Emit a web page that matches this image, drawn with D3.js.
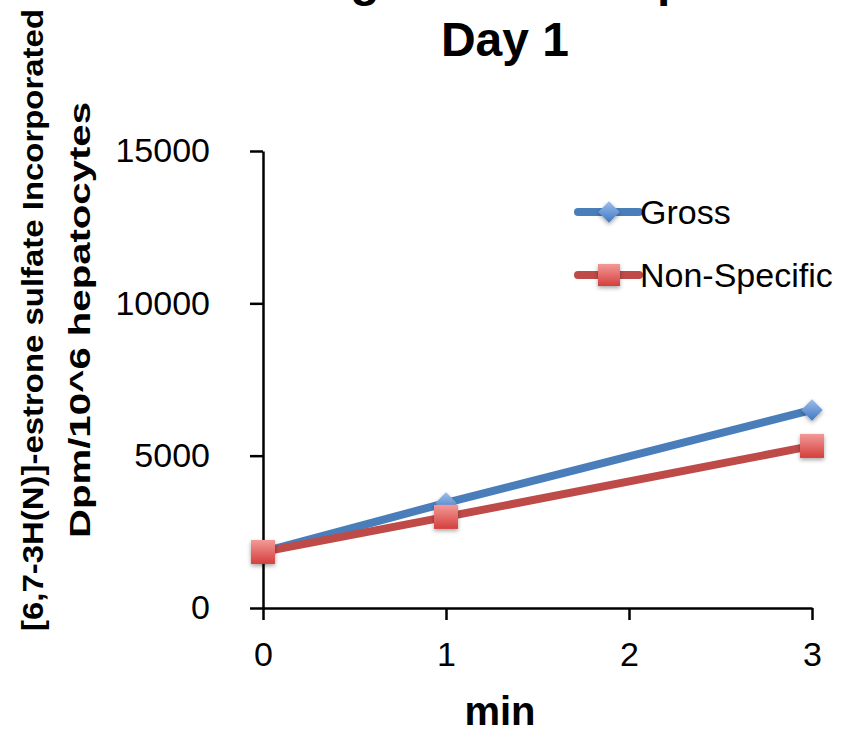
<!DOCTYPE html>
<meta charset="utf-8">
<script src="https://d3js.org/d3.v7.min.js"></script>
<style>
  body { margin: 0; background: #fff; }
  text { font-family: "Liberation Sans", Arial, sans-serif; }
</style>
<div id="chart"></div>
<script>
// data
const minutes = [0, 1, 3];
const gross = [1840, 3450, 6500];
const nonSpecific = [1840, 2990, 5320];
const seriesNames = ["Gross", "Non-Specific"];
const xTicks = [0, 1, 2, 3];
const yTicks = [0, 5000, 10000, 15000];
const titleLines = ["Estrogen Sulfate Uptake", "Day 1"];
const yLabelLines = ["[6,7-3H(N)]-estrone sulfate Incorporated", "Dpm/10^6 hepatocytes"];

const W = 856, H = 731;
const blue = "#4a7ebb", red = "#be4b48";

const svg = d3.select("#chart").append("svg")
  .attr("width", W).attr("height", H);

// gradients + shadow for markers
const defs = svg.append("defs");
const gBlue = defs.append("linearGradient").attr("id", "gBlue").attr("x1", 0).attr("y1", 0).attr("x2", 0).attr("y2", 1);
gBlue.append("stop").attr("offset", "0%").attr("stop-color", "#9dbdea");
gBlue.append("stop").attr("offset", "100%").attr("stop-color", "#3f78c4");
const gRed = defs.append("linearGradient").attr("id", "gRed").attr("x1", 0).attr("y1", 0).attr("x2", 0).attr("y2", 1);
gRed.append("stop").attr("offset", "0%").attr("stop-color", "#f29a98");
gRed.append("stop").attr("offset", "100%").attr("stop-color", "#d43f3c");
const shadow = defs.append("filter").attr("id", "shadow")
  .attr("x", "-50%").attr("y", "-50%").attr("width", "200%").attr("height", "200%");
shadow.append("feDropShadow").attr("dx", 0).attr("dy", 2).attr("stdDeviation", 2)
  .attr("flood-color", "#000").attr("flood-opacity", 0.35);

// scales
const x = d3.scaleLinear().domain([0, 3]).range([263, 812]);
const y = d3.scaleLinear().domain([0, 15000]).range([608, 151]);

// title (first line sits mostly above the top edge, as in the source)
svg.append("g").selectAll("text")
  .data(titleLines)
  .join("text")
    .attr("x", 505)
    .attr("y", (d, i) => i === 0 ? -4 : 56)
    .attr("text-anchor", "middle")
    .style("font-size", "48px")
    .style("font-weight", "bold")
    .text(d => d);

// y axis
const yAxis = svg.append("g")
  .attr("transform", `translate(${x(0)},0)`)
  .call(d3.axisLeft(y).tickValues(yTicks).tickFormat(d3.format("d"))
    .tickSize(13).tickSizeOuter(0).tickPadding(40));
// x axis
const xAxis = svg.append("g")
  .attr("transform", `translate(0,${y(0)})`)
  .call(d3.axisBottom(x).tickValues(xTicks).tickFormat(d3.format("d"))
    .tickSize(12).tickSizeOuter(0).tickPadding(22));

[yAxis, xAxis].forEach(a => {
  a.select(".domain").attr("stroke", "#000").attr("stroke-width", 2.5);
  a.selectAll(".tick line").attr("stroke", "#000").attr("stroke-width", 2.5);
  a.selectAll(".tick text").attr("fill", "#000").style("font-size", "34px")
    .style("font-family", "'Liberation Sans', Arial, sans-serif");
});

// axis titles
svg.append("text")
  .attr("x", 500).attr("y", 725)
  .attr("text-anchor", "middle")
  .style("font-size", "40px").style("font-weight", "bold")
  .text("min");

const yLabelLen = [622, 436];
svg.append("g").selectAll("text")
  .data(yLabelLines)
  .join("text")
    .attr("transform", "rotate(-90)")
    .attr("x", -320)
    .attr("y", (d, i) => i === 0 ? 43 : 90)
    .attr("text-anchor", "middle")
    .attr("textLength", (d, i) => yLabelLen[i])
    .attr("lengthAdjust", "spacingAndGlyphs")
    .style("font-size", "29px").style("font-weight", "bold")
    .text(d => d);

// lines
const line = d3.line().x((d, i) => x(minutes[i])).y(d => y(d));
const series = [
  {name: seriesNames[0], values: gross, color: blue},
  {name: seriesNames[1], values: nonSpecific, color: red}
];

const diamond = d3.symbol().type(d3.symbolDiamond2).size(290);

series.forEach((s, k) => {
  svg.append("path")
    .datum(s.values)
    .attr("d", line)
    .attr("fill", "none")
    .attr("stroke", s.color)
    .attr("stroke-width", 8);

  const pts = svg.append("g").selectAll("g")
    .data(s.values)
    .join("g")
      .attr("transform", (d, i) => `translate(${x(minutes[i])},${y(d)})`)
      .attr("filter", "url(#shadow)");
  if (k === 0) {
    pts.append("path").attr("d", diamond).attr("fill", "url(#gBlue)");
  } else {
    pts.append("rect").attr("x", -12).attr("y", -12).attr("width", 24).attr("height", 24)
      .attr("fill", "url(#gRed)");
  }
});

// legend
const legend = svg.append("g").selectAll("g")
  .data(series)
  .join("g")
    .attr("transform", (d, i) => `translate(578,${212 + i * 63})`);
legend.append("line")
  .attr("x1", 0).attr("x2", 61)
  .attr("stroke", d => d.color)
  .attr("stroke-width", 8)
  .attr("stroke-linecap", "round");
legend.each(function(d, i) {
  const g = d3.select(this).append("g").attr("transform", "translate(31,0)").attr("filter", "url(#shadow)");
  if (i === 0) g.append("path").attr("d", diamond).attr("fill", "url(#gBlue)");
  else g.append("rect").attr("x", -11).attr("y", -11).attr("width", 22).attr("height", 22).attr("fill", "url(#gRed)");
});
legend.append("text")
  .attr("x", 62)
  .attr("dy", "0.36em")
  .style("font-size", "34px")
  .text(d => d.name);
</script>
